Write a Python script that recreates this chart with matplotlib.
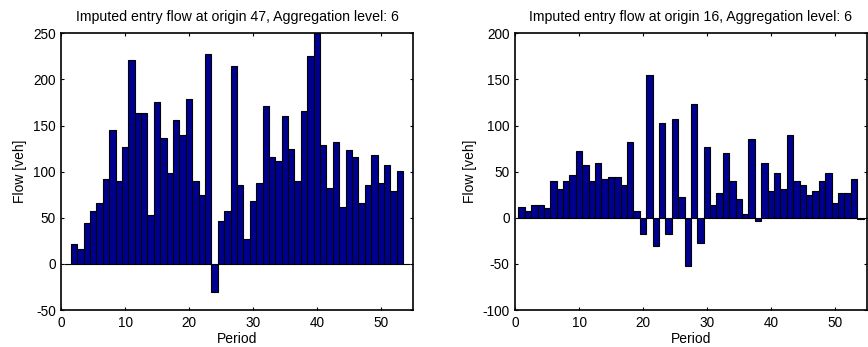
import numpy as np
import matplotlib
matplotlib.use("Agg")
import matplotlib.pyplot as plt

plt.rcParams['font.family'] = ['Liberation Sans', 'DejaVu Sans']
plt.rcParams['axes.unicode_minus'] = False

periods = np.arange(1, 55)

flow_origin_47 = [0, 22, 16, 44, 57, 66, 92, 145, 90, 127,
                  221, 164, 164, 53, 175, 136, 99, 156, 140, 179,
                  90, 75, 228, -31, 46, 57, 214, 85, 27, 68,
                  88, 171, 116, 112, 160, 125, 90, 166, 225, 250,
                  129, 82, 132, 62, 123, 116, 66, 86, 118, 88,
                  107, 79, 101, 0]

flow_origin_16 = [12, 7, 13.5, 13.5, 11, 40, 31, 40, 46, 72.5,
                  57, 40, 59.5, 42, 44, 44, 35.5, 82, 7, -18,
                  155, -31, 103, -18, 107, 22.5, -52.5, 123, -27, 77,
                  13.5, 26.5, 70, 40, 20.5, 4.5, 85.5, -3, 59.5, 29,
                  48.5, 31, 90, 40, 35, 24.5, 29, 40, 48.5, 15.5,
                  26.5, 26.5, 42, -1]

panels = [
    ("Imputed entry flow at origin 47, Aggregation level: 6", flow_origin_47,
     (-50, 250), [0.0705, 0.1066, 0.405, 0.7975]),
    ("Imputed entry flow at origin 16, Aggregation level: 6", flow_origin_16,
     (-100, 200), [0.5935, 0.1066, 0.405, 0.7975]),
]

fig = plt.figure(figsize=(8.68, 3.47), dpi=100)

for title, values, ylim, rect in panels:
    ax = fig.add_axes(rect)
    ax.bar(periods, values, width=1.0, color='#00008F', edgecolor='black',
           linewidth=0.8, zorder=2)
    ax.set_xlim(0, 55)
    ax.set_ylim(*ylim)
    ax.set_xticks(np.arange(0, 51, 10))
    ax.set_yticks(np.arange(ylim[0], ylim[1] + 1, 50))
    ax.tick_params(direction='in', top=True, right=True, length=2.5,
                   width=0.8, labelsize=9.8, pad=4)
    for sp in ax.spines.values():
        sp.set_linewidth(1.2)
    ax.set_title(title, fontsize=10.2, pad=9)
    ax.set_xlabel("Period", fontsize=10, labelpad=2)
    ax.set_ylabel("Flow [veh]", fontsize=10, labelpad=4)

fig.savefig("out.png", dpi=100)
